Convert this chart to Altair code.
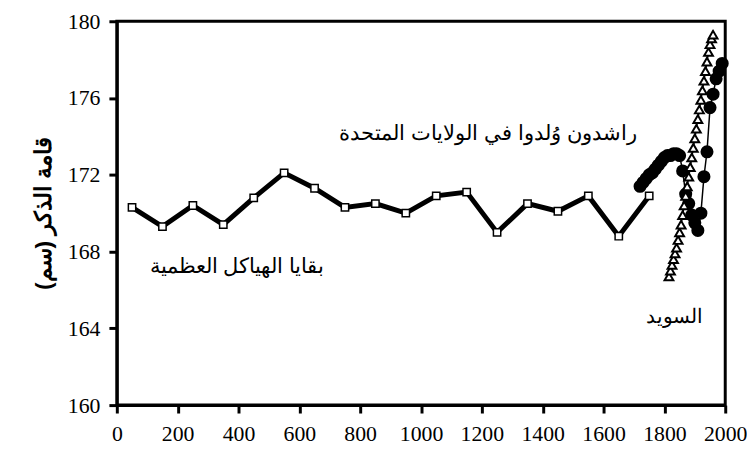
import altair as alt
import pandas as pd

# Skeletal remains (squares)
skel_years = [50, 150, 250, 350, 450, 550, 650, 750, 850, 950, 1050, 1150, 1250, 1350, 1450, 1550, 1650, 1750]
skel_height = [170.3, 169.3, 170.4, 169.4, 170.8, 172.1, 171.3, 170.3, 170.5, 170.0, 170.9, 171.1,
               169.0, 170.5, 170.1, 170.9, 168.8, 170.9]

# US-born veterans (filled circles)
us_years = [1720, 1730, 1740, 1750, 1760, 1770, 1780, 1790, 1800, 1810, 1820, 1830, 1840, 1850,
            1860, 1870, 1880, 1890, 1900, 1910, 1920, 1930, 1940, 1950, 1960, 1970, 1980, 1990]
us_height = [171.4, 171.6, 171.8, 172.0, 172.1, 172.3, 172.5, 172.7, 172.9, 173.0, 173.0, 173.1, 173.1, 173.0,
             172.2, 171.0, 170.5, 169.9, 169.5, 169.1, 170.0, 171.9, 173.2, 175.5, 176.2, 177.0, 177.4, 177.8]

# Sweden (open triangles)
swe_years = [1815, 1820, 1825, 1830, 1835, 1840, 1845, 1850, 1855, 1860, 1865, 1870, 1875, 1880, 1885,
             1890, 1895, 1900, 1905, 1910, 1915, 1920, 1925, 1930, 1935, 1940, 1945, 1950, 1955, 1960]
swe_height = [166.7, 167.0, 167.3, 167.6, 167.9, 168.2, 168.6, 169.0, 169.4, 169.9, 170.4, 170.9, 171.4, 171.9,
              172.4, 172.9, 173.4, 173.9, 174.4, 174.9, 175.4, 175.9, 176.4, 176.9, 177.4, 177.9, 178.4,
              178.8, 179.1, 179.3]

x_ticks = [0, 200, 400, 600, 800, 1000, 1200, 1400, 1600, 1800, 2000]
y_ticks = [160, 164, 168, 172, 176, 180]

label_us = "راشدون وُلدوا في الولايات المتحدة"
label_skel = "بقايا الهياكل العظمية"
label_swe = "السويد"
y_title = "قامة الذكر (سم)"

skel = pd.DataFrame({"year": skel_years, "height": skel_height})
us = pd.DataFrame({"year": us_years, "height": us_height})
swe = pd.DataFrame({"year": swe_years, "height": swe_height})

xs = alt.Scale(domain=[0, 2000], nice=False, zero=False)
ys = alt.Scale(domain=[160, 180], nice=False, zero=False)

xax = alt.Axis(values=x_ticks, title=None, grid=False, labelFlush=False, labelOverlap=False,
               labelFont="Liberation Serif", labelFontSize=22, labelColor="black",
               tickColor="black", tickSize=8, tickWidth=3, labelPadding=11,
               domainColor="black", domainWidth=3, format="d")
yax = alt.Axis(values=y_ticks, title=y_title, grid=False, labelFlush=False, labelOverlap=False,
               labelFont="Liberation Serif", labelFontSize=22, labelColor="black",
               tickColor="black", tickSize=8, tickWidth=3, labelPadding=9,
               domainColor="black", domainWidth=3, format="d",
               titleFont="Liberation Sans", titleFontSize=23, titleFontWeight="bold",
               titleColor="black", titlePadding=12)

X = alt.X("year:Q", scale=xs, axis=xax)
Y = alt.Y("height:Q", scale=ys, axis=yax)

skel_line = alt.Chart(skel).mark_line(color="black", strokeWidth=5).encode(x=X, y=Y)
skel_pts = alt.Chart(skel).mark_point(shape="square", filled=True, fill="white", stroke="black",
                                      strokeWidth=1.5, size=55, opacity=1).encode(x=X, y=Y)

us_line = alt.Chart(us).mark_line(color="black", strokeWidth=1.5).encode(x=X, y=Y)
us_pts = alt.Chart(us).mark_point(shape="circle", filled=True, fill="black", stroke="black",
                                  size=125, opacity=1).encode(x=X, y=Y)

swe_line = alt.Chart(swe).mark_line(color="black", strokeWidth=1.5).encode(x=X, y=Y)
swe_pts = alt.Chart(swe).mark_point(shape="triangle-up", filled=True, fill="white", stroke="black",
                                    strokeWidth=2, size=80, opacity=1).encode(x=X, y=Y)

t1 = alt.Chart().mark_text(text=label_us, font="Liberation Sans", fontSize=21.5, color="black",
                           align="center", baseline="middle").encode(
    x=alt.datum(1220), y=alt.datum(174.1))
t2 = alt.Chart().mark_text(text=label_skel, font="Liberation Sans", fontSize=21.5, color="black",
                           align="center", baseline="middle").encode(
    x=alt.datum(395), y=alt.datum(167.2))
t3 = alt.Chart().mark_text(text=label_swe, font="Liberation Sans", fontSize=20, color="black",
                           align="center", baseline="middle").encode(
    x=alt.datum(1832), y=alt.datum(164.6))

chart = alt.layer(skel_line, us_line, swe_line, us_pts, swe_pts, skel_pts, t1, t2, t3).properties(
    width=615, height=388,
    autosize=alt.AutoSizeParams(type="none"),
    padding={"left": 110, "top": 11, "right": 22, "bottom": 45},
    background="white",
).configure_view(stroke="black", strokeWidth=3)

chart.save("out.html", embed_options={"renderer": "svg", "actions": False})
